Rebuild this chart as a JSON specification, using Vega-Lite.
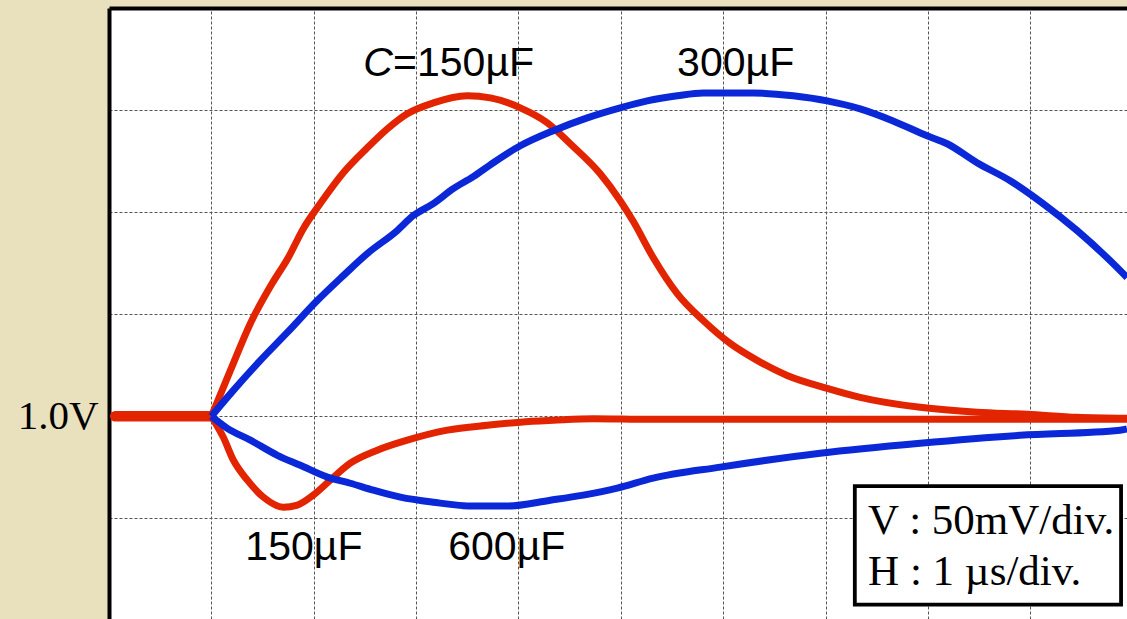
{
  "$schema": "https://vega.github.io/schema/vega-lite/v6.json",
  "width": 1018,
  "height": 611,
  "autosize": "none",
  "padding": {"left": 109, "top": 8, "right": 0, "bottom": 0},
  "background": "#E9E0BE",
  "config": {
    "view": {"stroke": null, "fill": "white"},
    "axis": {
      "grid": true,
      "gridColor": "#555555",
      "gridDash": [3, 2],
      "gridWidth": 1,
      "ticks": false,
      "tickSize": 0,
      "domain": true,
      "domainColor": "black",
      "domainWidth": 4,
      "title": null
    }
  },
  "datasets": {
    "traces": [
      {"trace": "150µF (a)", "t": 0, "v": 0},
      {"trace": "150µF (a)", "t": 0.186, "v": 22.5},
      {"trace": "150µF (a)", "t": 0.381, "v": 45.5},
      {"trace": "150µF (a)", "t": 0.593, "v": 65.0},
      {"trace": "150µF (a)", "t": 0.752, "v": 77.8},
      {"trace": "150µF (a)", "t": 0.898, "v": 91.9},
      {"trace": "150µF (a)", "t": 1.064, "v": 104.2},
      {"trace": "150µF (a)", "t": 1.289, "v": 119.3},
      {"trace": "150µF (a)", "t": 1.523, "v": 131.5},
      {"trace": "150µF (a)", "t": 1.719, "v": 140.8},
      {"trace": "150µF (a)", "t": 1.914, "v": 148.2},
      {"trace": "150µF (a)", "t": 2.168, "v": 153.5},
      {"trace": "150µF (a)", "t": 2.5, "v": 157.0},
      {"trace": "150µF (a)", "t": 2.725, "v": 156.0},
      {"trace": "150µF (a)", "t": 3.018, "v": 151.1},
      {"trace": "150µF (a)", "t": 3.281, "v": 143.8},
      {"trace": "150µF (a)", "t": 3.506, "v": 133.5},
      {"trace": "150µF (a)", "t": 3.799, "v": 118.8},
      {"trace": "150µF (a)", "t": 3.994, "v": 105.6},
      {"trace": "150µF (a)", "t": 4.121, "v": 95.5},
      {"trace": "150µF (a)", "t": 4.316, "v": 77.8},
      {"trace": "150µF (a)", "t": 4.551, "v": 60.1},
      {"trace": "150µF (a)", "t": 4.805, "v": 46.9},
      {"trace": "150µF (a)", "t": 5.068, "v": 35.7},
      {"trace": "150µF (a)", "t": 5.332, "v": 27.4},
      {"trace": "150µF (a)", "t": 5.625, "v": 20.0},
      {"trace": "150µF (a)", "t": 6.016, "v": 13.7},
      {"trace": "150µF (a)", "t": 6.338, "v": 9.3},
      {"trace": "150µF (a)", "t": 6.924, "v": 4.4},
      {"trace": "150µF (a)", "t": 7.48, "v": 2.0},
      {"trace": "150µF (a)", "t": 7.969, "v": 1.0},
      {"trace": "150µF (a)", "t": 8.457, "v": -0.5},
      {"trace": "150µF (a)", "t": 8.945, "v": -1.0},

      {"trace": "150µF (b)", "t": 0, "v": 0},
      {"trace": "150µF (b)", "t": 0.117, "v": -10.3},
      {"trace": "150µF (b)", "t": 0.215, "v": -21.5},
      {"trace": "150µF (b)", "t": 0.352, "v": -31.3},
      {"trace": "150µF (b)", "t": 0.508, "v": -39.6},
      {"trace": "150µF (b)", "t": 0.703, "v": -44.5},
      {"trace": "150µF (b)", "t": 0.84, "v": -43.5},
      {"trace": "150µF (b)", "t": 0.996, "v": -38.6},
      {"trace": "150µF (b)", "t": 1.162, "v": -31.3},
      {"trace": "150µF (b)", "t": 1.357, "v": -23.0},
      {"trace": "150µF (b)", "t": 1.621, "v": -16.6},
      {"trace": "150µF (b)", "t": 1.914, "v": -11.7},
      {"trace": "150µF (b)", "t": 2.305, "v": -6.8},
      {"trace": "150µF (b)", "t": 2.695, "v": -4.4},
      {"trace": "150µF (b)", "t": 3.018, "v": -2.9},
      {"trace": "150µF (b)", "t": 3.34, "v": -2.0},
      {"trace": "150µF (b)", "t": 3.73, "v": -1.2},
      {"trace": "150µF (b)", "t": 4.287, "v": -1.5},
      {"trace": "150µF (b)", "t": 6.0, "v": -1.5},
      {"trace": "150µF (b)", "t": 8.945, "v": -1.5},

      {"trace": "300µF", "t": 0, "v": 0},
      {"trace": "300µF", "t": 0.215, "v": 12.7},
      {"trace": "300µF", "t": 0.479, "v": 27.4},
      {"trace": "300µF", "t": 0.742, "v": 41.1},
      {"trace": "300µF", "t": 1.035, "v": 56.7},
      {"trace": "300µF", "t": 1.289, "v": 68.9},
      {"trace": "300µF", "t": 1.523, "v": 79.7},
      {"trace": "300µF", "t": 1.816, "v": 91.0},
      {"trace": "300µF", "t": 1.973, "v": 98.3},
      {"trace": "300µF", "t": 2.168, "v": 104.2},
      {"trace": "300µF", "t": 2.363, "v": 111.5},
      {"trace": "300µF", "t": 2.559, "v": 117.4},
      {"trace": "300µF", "t": 2.725, "v": 123.2},
      {"trace": "300µF", "t": 3.018, "v": 132.5},
      {"trace": "300µF", "t": 3.34, "v": 139.9},
      {"trace": "300µF", "t": 3.672, "v": 146.2},
      {"trace": "300µF", "t": 3.994, "v": 151.1},
      {"trace": "300µF", "t": 4.258, "v": 154.5},
      {"trace": "300µF", "t": 4.551, "v": 157.0},
      {"trace": "300µF", "t": 4.805, "v": 158.4},
      {"trace": "300µF", "t": 5.293, "v": 158.4},
      {"trace": "300µF", "t": 5.684, "v": 157.0},
      {"trace": "300µF", "t": 6.016, "v": 154.5},
      {"trace": "300µF", "t": 6.338, "v": 150.6},
      {"trace": "300µF", "t": 6.66, "v": 144.7},
      {"trace": "300µF", "t": 6.992, "v": 137.4},
      {"trace": "300µF", "t": 7.188, "v": 133.5},
      {"trace": "300µF", "t": 7.48, "v": 124.2},
      {"trace": "300µF", "t": 7.803, "v": 115.4},
      {"trace": "300µF", "t": 8.125, "v": 104.2},
      {"trace": "300µF", "t": 8.457, "v": 91.0},
      {"trace": "300µF", "t": 8.779, "v": 76.3},
      {"trace": "300µF", "t": 8.945, "v": 68.0},

      {"trace": "600µF", "t": 0, "v": 0},
      {"trace": "600µF", "t": 0.156, "v": -5.9},
      {"trace": "600µF", "t": 0.381, "v": -11.7},
      {"trace": "600µF", "t": 0.645, "v": -19.1},
      {"trace": "600µF", "t": 0.869, "v": -24.0},
      {"trace": "600µF", "t": 1.133, "v": -29.8},
      {"trace": "600µF", "t": 1.357, "v": -32.8},
      {"trace": "600µF", "t": 1.582, "v": -36.2},
      {"trace": "600µF", "t": 1.846, "v": -39.6},
      {"trace": "600µF", "t": 2.168, "v": -42.1},
      {"trace": "600µF", "t": 2.559, "v": -44.0},
      {"trace": "600µF", "t": 2.891, "v": -44.0},
      {"trace": "600µF", "t": 3.311, "v": -41.1},
      {"trace": "600µF", "t": 3.633, "v": -38.6},
      {"trace": "600µF", "t": 3.965, "v": -35.2},
      {"trace": "600µF", "t": 4.316, "v": -30.3},
      {"trace": "600µF", "t": 4.971, "v": -24.9},
      {"trace": "600µF", "t": 5.947, "v": -18.1},
      {"trace": "600µF", "t": 6.924, "v": -13.2},
      {"trace": "600µF", "t": 7.9, "v": -9.3},
      {"trace": "600µF", "t": 8.877, "v": -6.8},
      {"trace": "600µF", "t": 8.945, "v": -6.2}
    ]
  },
  "encoding": {
    "x": {
      "type": "quantitative",
      "scale": {"domain": [-1, 8.945], "nice": false, "zero": false},
      "axis": {"orient": "top", "values": [0, 1, 2, 3, 4, 5, 6, 7, 8], "labels": false}
    },
    "y": {
      "type": "quantitative",
      "scale": {"domain": [-99.3, 200], "nice": false, "zero": false},
      "axis": {
        "orient": "left",
        "values": [-50, 0, 50, 100, 150],
        "labelExpr": "datum.value == 0 ? '1.0V' : ''",
        "labelFont": "Liberation Serif",
        "labelFontSize": 41,
        "labelColor": "black",
        "labelPadding": 11,
        "labelBaseline": "middle"
      }
    }
  },
  "layer": [
    {
      "data": {"values": [{"t": -0.94, "v": 0}, {"t": 0, "v": 0}]},
      "mark": {"type": "line", "color": "#E32400", "strokeWidth": 10.5, "strokeCap": "round"},
      "encoding": {"x": {"field": "t"}, "y": {"field": "v"}}
    },
    {
      "data": {"name": "traces"},
      "transform": [{"filter": "datum.trace == '150µF (a)' || datum.trace == '150µF (b)'"}],
      "mark": {"type": "line", "strokeWidth": 7, "interpolate": "monotone", "strokeJoin": "round"},
      "encoding": {
        "x": {"field": "t"},
        "y": {"field": "v"},
        "detail": {"field": "trace"},
        "color": {"field": "trace", "type": "nominal", "legend": null,
          "scale": {"domain": ["150µF (a)", "150µF (b)", "300µF", "600µF"], "range": ["#E32400", "#E32400", "#0A28D8", "#0A28D8"]}}
      }
    },
    {
      "data": {"name": "traces"},
      "transform": [{"filter": "datum.trace == '300µF' || datum.trace == '600µF'"}],
      "mark": {"type": "line", "strokeWidth": 7, "interpolate": "monotone", "strokeJoin": "round"},
      "encoding": {
        "x": {"field": "t"},
        "y": {"field": "v"},
        "detail": {"field": "trace"},
        "color": {"field": "trace", "type": "nominal", "legend": null}
      }
    },
    {
      "data": {"values": [{"t0": 6.286, "t1": 8.887, "v0": -34.2, "v1": -92.3}]},
      "mark": {"type": "rect", "fill": "white", "stroke": "black", "strokeWidth": 3.8},
      "encoding": {
        "x": {"field": "t0"}, "x2": {"field": "t1"},
        "y": {"field": "v0"}, "y2": {"field": "v1"}
      }
    },
    {
      "data": {"values": [
        {"t": 6.416, "v": -57.7, "text": "V : 50mV/div."},
        {"t": 6.416, "v": -82.6, "text": "H : 1 µs/div."}
      ]},
      "mark": {"type": "text", "font": "Liberation Serif", "fontSize": 43, "align": "left", "baseline": "alphabetic", "color": "black"},
      "encoding": {"x": {"field": "t"}, "y": {"field": "v"}, "text": {"field": "text"}}
    },
    {
      "data": {"values": [{"t": 1.484, "v": 166.7, "text": "C"}]},
      "mark": {"type": "text", "font": "Liberation Sans", "fontSize": 41, "fontStyle": "italic", "align": "left", "baseline": "alphabetic", "color": "black"},
      "encoding": {"x": {"field": "t"}, "y": {"field": "v"}, "text": {"field": "text"}}
    },
    {
      "data": {"values": [
        {"t": 1.775, "v": 166.7, "text": "=150µF"},
        {"t": 4.55, "v": 166.7, "text": "300µF"},
        {"t": 0.332, "v": -70.4, "text": "150µF"},
        {"t": 2.314, "v": -70.4, "text": "600µF"}
      ]},
      "mark": {"type": "text", "font": "Liberation Sans", "fontSize": 41, "align": "left", "baseline": "alphabetic", "color": "black"},
      "encoding": {"x": {"field": "t"}, "y": {"field": "v"}, "text": {"field": "text"}}
    }
  ]
}
